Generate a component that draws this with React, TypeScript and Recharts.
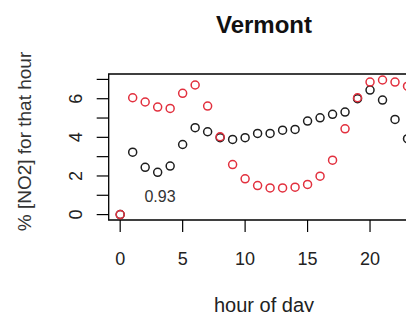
import { ScatterChart, Scatter, XAxis, YAxis, ReferenceArea } from 'recharts';

const hours = [0, 1, 2, 3, 4, 5, 6, 7, 8, 9, 10, 11, 12, 13, 14, 15, 16, 17, 18, 19, 20, 21, 22, 23];
const blackPct = [0, 3.23, 2.45, 2.19, 2.51, 3.63, 4.5, 4.29, 3.98, 3.89, 3.98, 4.2, 4.2, 4.37, 4.41, 4.84, 5.01, 5.19, 5.31, 6.0, 6.45, 5.93, 4.93, 3.93];
const redPct = [0, 6.05, 5.83, 5.57, 5.5, 6.28, 6.71, 5.62, 4.03, 2.59, 1.85, 1.5, 1.38, 1.38, 1.42, 1.56, 1.99, 2.82, 4.44, 6.05, 6.86, 6.97, 6.86, 6.65];
const xTicks = [0, 5, 10, 15, 20];
const yTicks = [0, 1, 2, 3, 4, 5, 6, 7];
const yLabelled = [0, 2, 4, 6];
const title = 'Vermont';
const xLabel = 'hour of day';
const yLabel = '% [NO2] for that hour';
const corrText = '0.93';

const FONT = '"Liberation Sans", Arial, sans-serif';
const INK = '#222';

const blackData = hours.map((h, i) => ({ hour: h, pct: blackPct[i] }));
const redData = hours.map((h, i) => ({ hour: h, pct: redPct[i] }));

const ring = (color: string) => (props: any) => (
    <circle cx={props.cx} cy={props.cy} r={4} fill="none" stroke={color} strokeWidth={1.5} />
);

const XTick = (props: any) => {
    const { x, y, payload } = props;
    return (
        <text x={x} y={y} dy={31} textAnchor="middle" fontSize={18} fontFamily={FONT} fill={INK}>
            {payload.value}
        </text>
    );
};

const YTick = (props: any) => {
    const { x, y, payload } = props;
    if (!yLabelled.includes(payload.value)) return <g />;
    const bx = x - 13;
    return (
        <text
            x={bx}
            y={y}
            transform={`rotate(-90, ${bx}, ${y})`}
            textAnchor="middle"
            fontSize={18}
            fontFamily={FONT}
            fill={INK}
        >
            {payload.value}
        </text>
    );
};

export default function App() {
    return (
        <div style={{ width: 414, height: 320, overflow: 'hidden', margin: -8, position: 'relative', background: '#fff' }}>
            <ScatterChart width={440} height={320} margin={{ top: 74, right: 21, bottom: 0, left: 0 }}>
                <XAxis
                    dataKey="hour"
                    type="number"
                    domain={[-0.92, 23.92]}
                    ticks={xTicks}
                    interval={0}
                    height={100}
                    tickSize={12}
                    axisLine={false}
                    tickLine={{ stroke: '#000', strokeWidth: 1.2 }}
                    tick={<XTick />}
                    allowDataOverflow
                />
                <YAxis
                    dataKey="pct"
                    type="number"
                    domain={[-0.28, 7.28]}
                    ticks={yTicks}
                    interval={0}
                    width={108.7}
                    tickSize={12}
                    axisLine={false}
                    tickLine={{ stroke: '#000', strokeWidth: 1.2 }}
                    tick={<YTick />}
                    allowDataOverflow
                />
                <ReferenceArea
                    x1={-0.92}
                    x2={23.92}
                    y1={-0.28}
                    y2={7.28}
                    fill="none"
                    fillOpacity={0}
                    stroke="#000"
                    strokeWidth={1.3}
                    ifOverflow="extendDomain"
                />
                <Scatter data={blackData} shape={ring('#1e1e1e')} isAnimationActive={false} />
                <Scatter data={redData} shape={ring('#e2303e')} isAnimationActive={false} />
                <text x={264} y={33} textAnchor="middle" fontSize={24} fontWeight="bold" fontFamily={FONT} fill="#111">
                    {title}
                </text>
                <text x={264} y={312} textAnchor="middle" fontSize={20} fontFamily={FONT} fill={INK}>
                    {xLabel}
                </text>
                <text
                    x={31}
                    y={141.5}
                    transform="rotate(-90, 31, 141.5)"
                    textAnchor="middle"
                    fontSize={19}
                    fontFamily={FONT}
                    fill="#333"
                >
                    {yLabel}
                </text>
                <text x={160} y={202} textAnchor="middle" fontSize={16} fontFamily={FONT} fill="#333">
                    {corrText}
                </text>
            </ScatterChart>
        </div>
    );
}
